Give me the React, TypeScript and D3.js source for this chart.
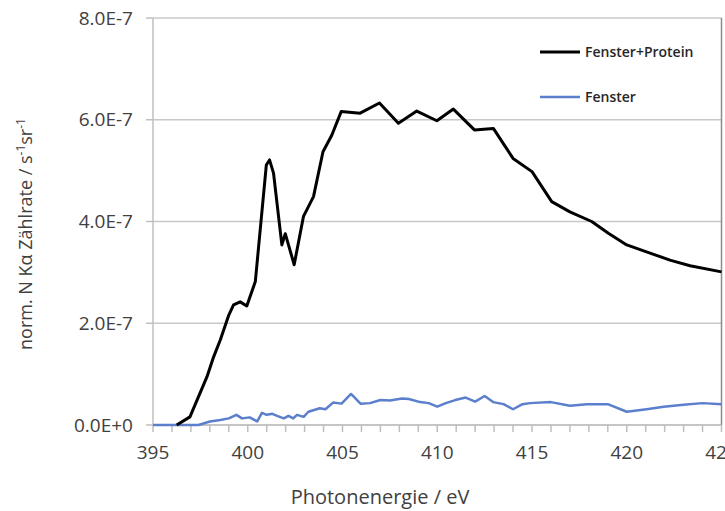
import * as d3 from 'd3';

// values in units of 1e-7 (s^-1 sr^-1)
const UNIT = 1e-7;

const proteinEnergy = [
  396.25, 396.95, 397.85, 398.2, 398.55, 399.0, 399.25, 399.6, 399.95, 400.4, 400.98, 401.15,
  401.36, 401.8, 401.98, 402.45, 402.94, 403.47, 403.97, 404.44, 404.93, 405.93, 406.95, 407.95,
  408.92, 409.98, 410.85, 411.96, 412.96, 414.0, 415.0, 416.04, 417.0, 418.15, 419.03, 420.0,
  421.23, 422.28, 423.34, 425.0,
];
const proteinValue = [
  0, 0.16, 0.95, 1.34, 1.67, 2.16, 2.36, 2.42, 2.34, 2.82, 5.11, 5.21,
  4.95, 3.54, 3.76, 3.15, 4.1, 4.49, 5.37, 5.7, 6.16, 6.13, 6.33, 5.93,
  6.17, 5.98, 6.21, 5.8, 5.83, 5.24, 4.98, 4.39, 4.19, 4.0, 3.77, 3.54,
  3.38, 3.24, 3.13, 3.01,
];

const fensterEnergy = [
  395.0, 397.4, 398.0, 398.55, 399.0, 399.4, 399.7, 400.1, 400.5, 400.75, 401.0, 401.3,
  401.55, 401.9, 402.15, 402.4, 402.6, 402.95, 403.2, 403.8, 404.1, 404.5, 404.95, 405.45,
  405.95, 406.45, 407.0, 407.5, 408.15, 408.5, 409.1, 409.55, 410.0, 410.45, 410.95, 411.5,
  412.0, 412.5, 412.95, 413.5, 414.0, 414.5, 414.9, 416.0, 417.0, 417.9, 419.0, 420.0,
  421.05, 421.95, 423.0, 424.0, 425.0,
];
const fensterValue = [
  0, 0, 0.07, 0.1, 0.13, 0.2, 0.13, 0.15, 0.07, 0.24, 0.2, 0.22,
  0.18, 0.13, 0.18, 0.13, 0.2, 0.16, 0.26, 0.33, 0.31, 0.44, 0.42, 0.61,
  0.42, 0.43, 0.49, 0.48, 0.52, 0.51, 0.45, 0.43, 0.36, 0.43, 0.49, 0.54,
  0.46, 0.57, 0.45, 0.41, 0.31, 0.41, 0.43, 0.45, 0.38, 0.41, 0.41, 0.26,
  0.31, 0.36, 0.4, 0.43, 0.41,
];

const xTicks = [395, 400, 405, 410, 415, 420, 425];
const yTicks = [0, 2, 4, 6, 8];

const seriesNames = ['Fenster+Protein', 'Fenster'];
const seriesColors = ['#000000', '#5b7fcc'];

const W = 725;
const H = 511;
const FONT = '"Open Sans", "DejaVu Sans", sans-serif';

export default function App() {
  const left = 153;
  const right = 721.5;
  const top = 18;
  const bottom = 425;

  const x = d3.scaleLinear().domain([395, 425]).range([left, right]);
  const y = d3.scaleLinear().domain([0, 8 * UNIT]).range([bottom, top]);

  const line = d3
    .line<[number, number]>()
    .x((d) => x(d[0]))
    .y((d) => y(d[1] * UNIT));

  const protein = proteinEnergy.map((e, i) => [e, proteinValue[i]] as [number, number]);
  const fenster = fensterEnergy.map((e, i) => [e, fensterValue[i]] as [number, number]);

  const fmtY = (v: number) => (v === 0 ? '0.0E+0' : `${v.toFixed(1)}E-7`);
  const minorTicks = d3.range(395, 426, 1);

  return (
    <svg
      width={W}
      height={H}
      style={{ position: 'absolute', left: 0, top: 0, background: '#fff' }}
      fontFamily={FONT}
    >
      {/* gridlines */}
      {yTicks.map((t) => (
        <line
          key={'g' + t}
          x1={left}
          x2={right}
          y1={y(t * UNIT)}
          y2={y(t * UNIT)}
          stroke="#c8c8c8"
          strokeWidth={1.5}
        />
      ))}
      {/* right border */}
      <line x1={right} x2={right} y1={top} y2={bottom} stroke="#8c8c8c" strokeWidth={1.5} />

      {/* y axis */}
      <line x1={left} x2={left} y1={top} y2={bottom} stroke="#bfbfbf" strokeWidth={1.5} />
      {yTicks.map((t) => (
        <g key={'y' + t}>
          <line x1={left - 7} x2={left} y1={y(t * UNIT)} y2={y(t * UNIT)} stroke="#bfbfbf" strokeWidth={1.5} />
          <text
            x={133}
            y={y(t * UNIT)}
            dy="0.35em"
            textAnchor="end"
            fontSize={19}
            fill="#404040"
          >
            {fmtY(t)}
          </text>
        </g>
      ))}

      {/* x axis */}
      <line x1={left} x2={right} y1={bottom} y2={bottom} stroke="#bfbfbf" strokeWidth={1.5} />
      {minorTicks.map((t) => (
        <line key={'m' + t} x1={x(t)} x2={x(t)} y1={bottom} y2={bottom + 7} stroke="#bfbfbf" strokeWidth={1.5} />
      ))}
      {xTicks.map((t) => (
        <text key={'x' + t} x={x(t)} y={459} textAnchor="middle" fontSize={19} fill="#404040">
          {t}
        </text>
      ))}

      {/* series */}
      <path d={line(fenster) || ''} fill="none" stroke={seriesColors[1]} strokeWidth={2.5} strokeLinejoin="round" />
      <path d={line(protein) || ''} fill="none" stroke={seriesColors[0]} strokeWidth={3} strokeLinejoin="round" />

      {/* legend */}
      {seriesNames.map((n, i) => (
        <g key={n} transform={`translate(540,${52 + i * 45})`}>
          <line x1={0} x2={40} y1={0} y2={0} stroke={seriesColors[i]} strokeWidth={i === 0 ? 3 : 2.5} />
          <text x={45} y={0} dy="0.35em" fontSize={14} fontWeight={600} fill="#262626">
            {n}
          </text>
        </g>
      ))}

      {/* axis titles */}
      <text x={380} y={504} textAnchor="middle" fontSize={20} fill="#404040">
        Photonenergie / eV
      </text>
      <text
        transform="translate(32,234) rotate(-90)"
        textAnchor="middle"
        fontSize={18}
        fill="#404040"
      >
        norm. N Kα Zählrate / s
        <tspan fontSize={12} dy={-7}>-1</tspan>
        <tspan dy={7}>sr</tspan>
        <tspan fontSize={12} dy={-7}>-1</tspan>
      </text>
    </svg>
  );
}
